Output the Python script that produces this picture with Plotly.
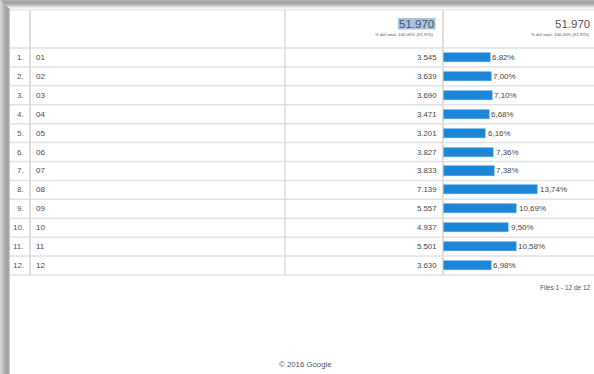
import plotly.graph_objects as go

# ---- data ----
row_numbers = ["1.", "2.", "3.", "4.", "5.", "6.", "7.", "8.", "9.", "10.", "11.", "12."]
months = ["01", "02", "03", "04", "05", "06", "07", "08", "09", "10", "11", "12"]
sessions = [3545, 3639, 3690, 3471, 3201, 3827, 3833, 7139, 5557, 4937, 5501, 3630]
total_label = "51.970"
subtitle = "% del total: 100,00% (51.970)"
footer_rows = "Files 1 - 12 de 12"
footer_copy = "© 2016 Google"

W, H = 594, 374
FONT = "Liberation Sans, Arial, sans-serif"
TXT = "#484848"


def px(x):
    return x / W


def py(y):
    return 1 - y / H


def fmt_int(v):
    return f"{v:,}".replace(",", ".")


total = sum(sessions)
pcts = [v / total * 100 for v in sessions]
pct_labels = [f"{p:.2f}".replace(".", ",") + "%" for p in pcts]
rows = list(range(1, len(months) + 1))

TABLE_TOP, HEAD_BOTTOM, TABLE_BOTTOM = 9, 48, 275
LEFT = 10
COL1, COL2, COL3 = 30, 285, 443
PX_PER_PCT = 6.85

fig = go.Figure()
fig.add_trace(go.Bar(
    x=pcts, y=rows, orientation="h", width=0.48,
    marker=dict(color="#1e86d6", line=dict(color="#4aa0e2", width=0.6)),
    hoverinfo="skip", showlegend=False,
))

shapes = []
# top shadow
top_cols = ["#b0b0b0", "#a8a8a8", "#a4a4a4", "#a8a8a8", "#b2b2b2", "#c2c2c2", "#d8d8d8", "#ececec", "#f6f6f6"]
for i, c in enumerate(top_cols):
    shapes.append(dict(type="rect", xref="paper", yref="paper", x0=0, x1=1,
                       y0=py(i + 1), y1=py(i), fillcolor=c, line_width=0, layer="below"))
# left shadow
left_cols = ["#d6d6d6", "#cdcdcd", "#c4c4c4", "#bbbbbb", "#b3b3b3", "#ababab", "#a5a5a5", "#a2a2a2", "#a8a8a8", "#c6c6c6"]
for i, c in enumerate(left_cols):
    shapes.append(dict(type="rect", xref="paper", yref="paper", x0=px(i), x1=px(i + 1),
                       y0=0, y1=py(min(i, 8)), fillcolor=c, line_width=0, layer="below"))
# table top faint line
shapes.append(dict(type="rect", xref="paper", yref="paper", x0=px(LEFT), x1=1,
                   y0=py(TABLE_TOP + 2), y1=py(TABLE_TOP), fillcolor="#eeeeee", line_width=0, layer="below"))
# highlight behind header value
shapes.append(dict(type="rect", xref="paper", yref="paper", x0=px(398), x1=px(435.5),
                   y0=py(29.5), y1=py(18), fillcolor="#a3c4e2", line_width=0, layer="below"))
# horizontal row lines (header bottom + after each row)
row_h = (TABLE_BOTTOM - HEAD_BOTTOM) / len(rows)
for k in range(len(rows) + 1):
    yy = HEAD_BOTTOM + k * row_h
    shapes.append(dict(type="line", xref="paper", yref="paper", x0=px(LEFT), x1=1,
                       y0=py(yy), y1=py(yy), line=dict(color="#e2e2e2", width=1.5), layer="below"))
# vertical column dividers
for xx, wdt in [(COL1, 2), (COL2, 1.6), (COL3, 2)]:
    shapes.append(dict(type="line", xref="paper", yref="paper", x0=px(xx), x1=px(xx),
                       y0=py(TABLE_BOTTOM), y1=py(TABLE_TOP + 1), line=dict(color="#dedede", width=wdt), layer="below"))

ann = []
for r, num, m, v, pl, p in zip(rows, row_numbers, months, sessions, pct_labels, pcts):
    ann.append(dict(text=num, xref="paper", yref="y", x=px(25.5), y=r, xanchor="right", yanchor="middle",
                    showarrow=False, font=dict(family=FONT, size=8, color="#555555")))
    ann.append(dict(text=m, xref="paper", yref="y", x=px(34), y=r, xanchor="left", yanchor="middle",
                    showarrow=False, font=dict(family=FONT, size=8, color=TXT)))
    ann.append(dict(text=fmt_int(v), xref="paper", yref="y", x=px(439), y=r, xanchor="right", yanchor="middle",
                    showarrow=False, font=dict(family=FONT, size=7.8, color=TXT)))
    ann.append(dict(text=pl, xref="x", yref="y", x=p, y=r, xanchor="left", yanchor="middle", xshift=0,
                    showarrow=False, font=dict(family=FONT, size=8, color=TXT)))

# headers
for xr in [436, 592]:
    ann.append(dict(text=total_label, xref="paper", yref="paper", x=px(xr), y=py(23.5), xanchor="right",
                    yanchor="middle", showarrow=False, font=dict(family=FONT, size=11.5, color="#555555")))
    ann.append(dict(text=subtitle, xref="paper", yref="paper", x=px(xr - 1), y=py(34.5), xanchor="right",
                    yanchor="middle", showarrow=False, font=dict(family=FONT, size=4.4, color="#555555")))
ann.append(dict(text=footer_rows, xref="paper", yref="paper", x=px(592.5), y=py(287.5), xanchor="right",
                yanchor="middle", showarrow=False, font=dict(family=FONT, size=6.5, color="#555555")))
ann.append(dict(text=footer_copy, xref="paper", yref="paper", x=px(305.5), y=py(364.5), xanchor="center",
                yanchor="middle", showarrow=False, font=dict(family=FONT, size=7.8, color="#555555")))

fig.update_layout(
    width=W, height=H, margin=dict(l=0, r=0, t=0, b=0, pad=0),
    paper_bgcolor="#ffffff", plot_bgcolor="rgba(0,0,0,0)",
    shapes=shapes, annotations=ann, bargap=0, showlegend=False,
    xaxis=dict(domain=[px(COL3 + 0.5), 1], range=[0, (W - COL3 - 0.5) / PX_PER_PCT],
               visible=False, fixedrange=True),
    yaxis=dict(domain=[py(TABLE_BOTTOM), py(HEAD_BOTTOM)], range=[12.5, 0.5],
               visible=False, fixedrange=True),
)

fig.write_html("out.html", config={"displayModeBar": False})
